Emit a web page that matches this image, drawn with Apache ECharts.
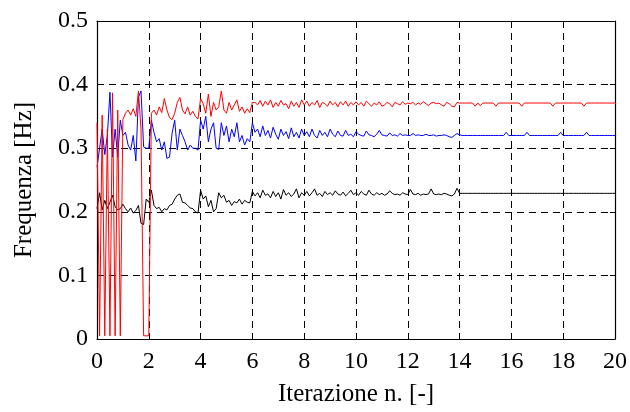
<!DOCTYPE html>
<html>
<head>
<meta charset="utf-8">
<title>Frequenza vs iterazione</title>
<script src="https://cdn.jsdelivr.net/npm/echarts@6/dist/echarts.min.js"></script>
<style>
  html, body { margin: 0; padding: 0; background: #fff; }
  #chart { width: 630px; height: 412px; }
</style>
</head>
<body>
<div id="chart"></div>
<script>
// Sampling step along the x axis (iterations), values every 0.1
var STEP = 0.1;

var xTicks = [0, 2, 4, 6, 8, 10, 12, 14, 16, 18, 20];
var yTicks = [0, 0.1, 0.2, 0.3, 0.4, 0.5];

var redValues = [
  0.34, 0.005, 0.352, 0.005, 0.33, 0.005, 0.387, 0.005, 0.36, 0.005,
  0.345, 0.355, 0.36, 0.352, 0.362, 0.35, 0.39, 0.33, 0.005, 0.005, 0.005,
  0.355, 0.36, 0.352, 0.365, 0.356, 0.378, 0.36, 0.348, 0.345, 0.355,
  0.372, 0.38, 0.36, 0.354, 0.365, 0.352, 0.358, 0.35, 0.346, 0.378,
  0.37, 0.355, 0.385, 0.35, 0.372, 0.36, 0.365, 0.39, 0.36, 0.355,
  0.372, 0.36, 0.368, 0.376, 0.358, 0.365, 0.355, 0.362, 0.356, 0.372,
  0.372, 0.368, 0.375, 0.366, 0.374, 0.368, 0.376, 0.364, 0.372, 0.366,
  0.375, 0.368, 0.37, 0.362, 0.374, 0.366, 0.372, 0.364, 0.376, 0.368,
  0.374, 0.366, 0.372, 0.368, 0.375, 0.364, 0.372, 0.37, 0.366, 0.374,
  0.368, 0.372, 0.365, 0.373, 0.368, 0.374, 0.366, 0.372, 0.368, 0.373,
  0.368, 0.372, 0.366, 0.374, 0.37, 0.366, 0.371, 0.368, 0.373, 0.366,
  0.368, 0.372, 0.37, 0.365, 0.372, 0.37, 0.368, 0.373, 0.369, 0.371,
  0.37, 0.372, 0.368, 0.371, 0.369, 0.373, 0.37, 0.367, 0.371, 0.372,
  0.37, 0.371, 0.368, 0.366, 0.372, 0.37, 0.366, 0.365, 0.372, 0.371,
  0.371, 0.371, 0.371, 0.371, 0.371, 0.366, 0.371, 0.367, 0.371, 0.371,
  0.371, 0.371, 0.371, 0.366, 0.371, 0.371, 0.371, 0.371, 0.371, 0.371,
  0.371, 0.371, 0.371, 0.366, 0.371, 0.371, 0.371, 0.371, 0.371, 0.371,
  0.371, 0.371, 0.371, 0.371, 0.371, 0.366, 0.371, 0.371, 0.371, 0.371,
  0.371, 0.371, 0.371, 0.371, 0.371, 0.371, 0.371, 0.366, 0.371, 0.371,
  0.371, 0.371, 0.371, 0.371, 0.371, 0.371, 0.371, 0.371, 0.371, 0.371,
  0.368
];

var blueValues = [
  0.27, 0.30, 0.33, 0.29, 0.32, 0.388, 0.286, 0.33, 0.286, 0.344,
  0.32, 0.325, 0.305, 0.297, 0.32, 0.28, 0.38, 0.39, 0.302, 0.30, 0.30,
  0.344, 0.325, 0.31, 0.315, 0.297, 0.31, 0.284, 0.286, 0.324, 0.344,
  0.297, 0.33, 0.32, 0.31, 0.297, 0.305, 0.30, 0.30, 0.297, 0.344,
  0.33, 0.35, 0.31, 0.33, 0.34, 0.30, 0.298, 0.34, 0.32, 0.335,
  0.31, 0.33, 0.318, 0.34, 0.31, 0.32, 0.305, 0.315, 0.31, 0.34,
  0.325, 0.33, 0.318, 0.335, 0.32, 0.328, 0.316, 0.333, 0.322, 0.314,
  0.33, 0.32, 0.326, 0.315, 0.332, 0.318, 0.325, 0.316, 0.33, 0.32,
  0.326, 0.318, 0.33, 0.32, 0.316, 0.328, 0.32, 0.325, 0.318, 0.33,
  0.322, 0.318, 0.327, 0.32, 0.319, 0.328, 0.32, 0.322, 0.318, 0.326,
  0.322, 0.32, 0.319, 0.327, 0.321, 0.32, 0.318, 0.322, 0.328, 0.321,
  0.32, 0.319, 0.324, 0.32, 0.321, 0.319, 0.323, 0.32, 0.321, 0.32,
  0.32, 0.323, 0.32, 0.321, 0.32, 0.32, 0.322, 0.32, 0.32, 0.321,
  0.319, 0.32, 0.32, 0.321, 0.32, 0.318, 0.317, 0.32, 0.323, 0.321,
  0.32, 0.32, 0.32, 0.32, 0.32, 0.32, 0.32, 0.32, 0.32, 0.32,
  0.32, 0.32, 0.32, 0.32, 0.32, 0.32, 0.32, 0.325, 0.32, 0.32,
  0.32, 0.32, 0.32, 0.32, 0.32, 0.325, 0.32, 0.32, 0.32, 0.32,
  0.32, 0.32, 0.32, 0.32, 0.32, 0.32, 0.32, 0.32, 0.325, 0.32,
  0.32, 0.32, 0.32, 0.32, 0.32, 0.32, 0.32, 0.32, 0.325, 0.32,
  0.32, 0.32, 0.32, 0.32, 0.32, 0.32, 0.32, 0.32, 0.32, 0.32,
  0.32
];

var blackValues = [
  0.205, 0.23, 0.203, 0.218, 0.205, 0.215, 0.226, 0.208, 0.203, 0.205,
  0.212, 0.205, 0.2, 0.206, 0.198, 0.202, 0.21, 0.182, 0.18, 0.22, 0.215,
  0.234, 0.21, 0.205, 0.207, 0.2, 0.205, 0.203, 0.21, 0.212, 0.22,
  0.226, 0.228, 0.215, 0.214, 0.21, 0.206, 0.205, 0.2, 0.198, 0.234,
  0.22, 0.225, 0.208, 0.218, 0.2, 0.205, 0.23, 0.222, 0.226, 0.215,
  0.218, 0.21, 0.216, 0.214, 0.22, 0.212, 0.218, 0.215, 0.214, 0.232,
  0.225, 0.23, 0.222, 0.234, 0.226, 0.228, 0.222, 0.232, 0.224, 0.23,
  0.22, 0.235, 0.226, 0.23, 0.224, 0.228, 0.236, 0.222, 0.23, 0.226,
  0.232, 0.225, 0.23, 0.236, 0.226, 0.229, 0.224, 0.232, 0.227, 0.23,
  0.226, 0.233, 0.228, 0.226, 0.231, 0.225, 0.229, 0.234, 0.227, 0.23,
  0.226, 0.232, 0.228, 0.226, 0.234, 0.228, 0.226, 0.23, 0.227, 0.229,
  0.226, 0.228, 0.233, 0.229, 0.227, 0.228, 0.226, 0.23, 0.228, 0.227,
  0.235, 0.228, 0.227, 0.229, 0.226, 0.228, 0.227, 0.228, 0.236, 0.228,
  0.227, 0.228, 0.227, 0.229, 0.228, 0.226, 0.225, 0.228, 0.237, 0.229,
  0.229, 0.229, 0.229, 0.229, 0.229, 0.229, 0.229, 0.229, 0.229, 0.229,
  0.229, 0.229, 0.229, 0.229, 0.229, 0.229, 0.229, 0.229, 0.229, 0.229,
  0.229, 0.229, 0.229, 0.229, 0.229, 0.229, 0.229, 0.229, 0.229, 0.229,
  0.229, 0.229, 0.229, 0.229, 0.229, 0.229, 0.229, 0.229, 0.229, 0.229,
  0.229, 0.229, 0.229, 0.229, 0.229, 0.229, 0.229, 0.229, 0.229, 0.229,
  0.229, 0.229, 0.229, 0.229, 0.229, 0.229, 0.229, 0.229, 0.229, 0.229,
  0.229
];

(function () {
  var FONT = '"Liberation Serif", "DejaVu Serif", serif';

  function toPoints(values) {
    return values.map(function (v, i) {
      return [Math.round(i * STEP * 10) / 10, v];
    });
  }

  function lineSeries(values, color) {
    return {
      type: "line",
      data: toPoints(values),
      showSymbol: false,
      symbol: "none",
      lineStyle: { color: color, width: 1 },
      xAxisIndex: 0,
      yAxisIndex: 0,
      z: 3,
    };
  }

  var xStep = xTicks[1] - xTicks[0];
  var yStep = yTicks[1] - yTicks[0];

  var frameLine = { show: true, onZero: false, lineStyle: { color: "#000", width: 1.2 } };
  var innerTick = { show: true, inside: true, length: 5, lineStyle: { color: "#000" } };
  var dashedGrid = { show: true, lineStyle: { color: "#000", type: [7, 5], width: 1 } };

  var chart = echarts.init(document.getElementById("chart"), null, { renderer: "canvas" });

  chart.setOption({
    animation: false,
    backgroundColor: "#fff",
    grid: { left: 97, right: 15, top: 21, bottom: 73 },
    xAxis: [
      {
        type: "value",
        min: xTicks[0],
        max: xTicks[xTicks.length - 1],
        interval: xStep,
        name: "Iterazione n. [-]",
        nameLocation: "middle",
        nameGap: 43,
        nameTextStyle: { fontFamily: FONT, fontSize: 25, color: "#000" },
        axisLine: frameLine,
        axisTick: innerTick,
        axisLabel: { fontFamily: FONT, fontSize: 24, color: "#000", margin: 11 },
        splitLine: dashedGrid,
      },
      {
        type: "value",
        position: "top",
        min: xTicks[0],
        max: xTicks[xTicks.length - 1],
        interval: xStep,
        axisLine: frameLine,
        axisTick: innerTick,
        axisLabel: { show: false },
        splitLine: { show: false },
      },
    ],
    yAxis: [
      {
        type: "value",
        min: yTicks[0],
        max: yTicks[yTicks.length - 1],
        interval: yStep,
        name: "Frequenza [Hz]",
        nameLocation: "middle",
        nameGap: 60,
        nameTextStyle: { fontFamily: FONT, fontSize: 25, color: "#000" },
        axisLine: frameLine,
        axisTick: innerTick,
        axisLabel: {
          fontFamily: FONT,
          fontSize: 24,
          color: "#000",
          margin: 9,
          formatter: function (v) { return String(Math.round(v * 10) / 10); },
        },
        splitLine: dashedGrid,
      },
      {
        type: "value",
        position: "right",
        min: yTicks[0],
        max: yTicks[yTicks.length - 1],
        interval: yStep,
        axisLine: frameLine,
        axisTick: innerTick,
        axisLabel: { show: false },
        splitLine: { show: false },
      },
    ],
    series: [
      lineSeries(blackValues, "#000000"),
      lineSeries(blueValues, "#0000ff"),
      lineSeries(redValues, "#ff0000"),
    ],
  });
})();
</script>
</body>
</html>
